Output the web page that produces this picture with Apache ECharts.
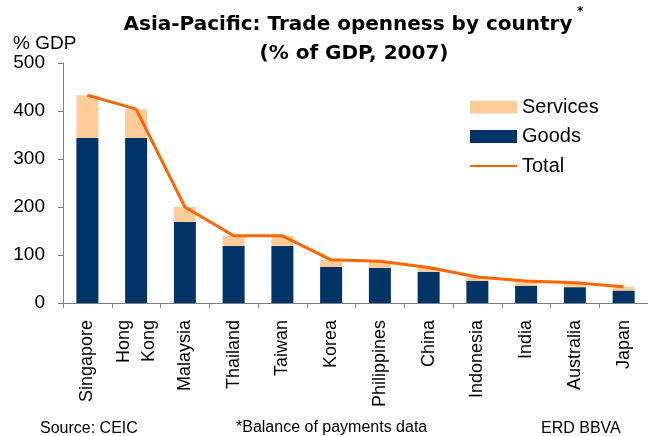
<!DOCTYPE html>
<html>
<head>
<meta charset="utf-8">
<script src="https://cdn.jsdelivr.net/npm/echarts@6/dist/echarts.min.js"></script>
<style>
  html, body { margin: 0; padding: 0; background: #fff; }
  #chart { width: 648px; height: 436px; }
</style>
</head>
<body>
<div id="chart"></div>
<script>
// Trade openness by country, 2007 (% of GDP)
var categories = ['Singapore', 'Hong\nKong', 'Malaysia', 'Thailand', 'Taiwan', 'Korea',
                  'Philippines', 'China', 'Indonesia', 'India', 'Australia', 'Japan'];
var goods    = [344, 344, 169, 119, 119, 75, 73, 65, 46, 36, 33, 26];
var services = [89, 60, 31, 21, 21, 15, 14, 9, 8, 10, 9, 8];
var total    = [433, 404, 200, 140, 140, 90, 87, 74, 54, 46, 42, 34];
var yTicks   = { min: 0, max: 500, interval: 100 };

var FONT = '"Liberation Sans", Arial, sans-serif';
var TITLE_FONT = '"DejaVu Sans", Verdana, sans-serif';

var chart = echarts.init(document.getElementById('chart'), null, { renderer: 'canvas' });

chart.setOption({
  animation: false,
  backgroundColor: '#ffffff',
  grid: { left: 63, right: -7, top: 63, bottom: 133, containLabel: false },
  legend: {
    orient: 'vertical',
    left: 469,
    top: 97,
    padding: 0,
    itemWidth: 47,
    itemHeight: 13,
    itemGap: 9.5,
    textStyle: { fontFamily: FONT, fontSize: 20, color: '#000', lineHeight: 20 },
    data: [
      { name: 'Services', icon: 'rect' },
      { name: 'Goods', icon: 'rect' },
      // line only, no marker
      { name: 'Total', itemStyle: { opacity: 0 } }
    ]
  },
  xAxis: {
    type: 'category',
    data: categories,
    axisLine: { show: true, lineStyle: { color: '#7f7f7f', width: 1 } },
    axisTick: { show: true, length: 5, lineStyle: { color: '#7f7f7f' } },
    axisLabel: {
      rotate: 90,
      margin: 17,
      fontFamily: FONT,
      fontSize: 18,
      lineHeight: 25,
      color: '#000'
    }
  },
  yAxis: {
    type: 'value',
    min: yTicks.min,
    max: yTicks.max,
    interval: yTicks.interval,
    splitLine: { show: false },
    axisLine: { show: true, lineStyle: { color: '#7f7f7f', width: 1 } },
    axisTick: { show: true, length: 5, lineStyle: { color: '#7f7f7f' } },
    axisLabel: { margin: 18, fontFamily: FONT, fontSize: 19, color: '#000' }
  },
  series: [
    {
      name: 'Goods',
      type: 'bar',
      stack: 'trade',
      barWidth: 22,
      itemStyle: { color: '#003366' },
      data: goods
    },
    {
      name: 'Services',
      type: 'bar',
      stack: 'trade',
      barWidth: 22,
      itemStyle: { color: '#FFCC99' },
      data: services
    },
    {
      name: 'Total',
      type: 'line',
      symbol: 'none',
      lineStyle: { color: '#FF6600', width: 3 },
      itemStyle: { color: '#FF6600' },
      z: 5,
      data: total
    }
  ],
  graphic: [
    {
      type: 'text', left: 13, top: 34,
      style: { text: '% GDP', font: '19px ' + FONT, fill: '#000' }
    },
    {
      type: 'text', x: 348, y: 25,
      style: {
        text: 'Asia-Pacific: Trade openness by country',
        font: 'bold 20px ' + TITLE_FONT, fill: '#000',
        textAlign: 'center', textVerticalAlign: 'middle'
      }
    },
    {
      type: 'text', x: 577, y: 12,
      style: { text: '*', font: 'bold 12px ' + TITLE_FONT, fill: '#000',
               textAlign: 'left', textVerticalAlign: 'middle' }
    },
    {
      type: 'text', x: 354, y: 54,
      style: {
        text: '(% of GDP, 2007)',
        font: 'bold 20px ' + TITLE_FONT, fill: '#000',
        textAlign: 'center', textVerticalAlign: 'middle'
      }
    },
    {
      type: 'text', x: 40, y: 429,
      style: { text: 'Source: CEIC', font: '16px ' + FONT, fill: '#000',
               textAlign: 'left', textVerticalAlign: 'middle' }
    },
    {
      type: 'text', x: 236, y: 428,
      style: { text: '*Balance of payments data', font: '16px ' + FONT, fill: '#000',
               textAlign: 'left', textVerticalAlign: 'middle' }
    },
    {
      type: 'text', x: 541, y: 429,
      style: { text: 'ERD BBVA', font: '16px ' + FONT, fill: '#000',
               textAlign: 'left', textVerticalAlign: 'middle' }
    }
  ]
});
</script>
</body>
</html>
